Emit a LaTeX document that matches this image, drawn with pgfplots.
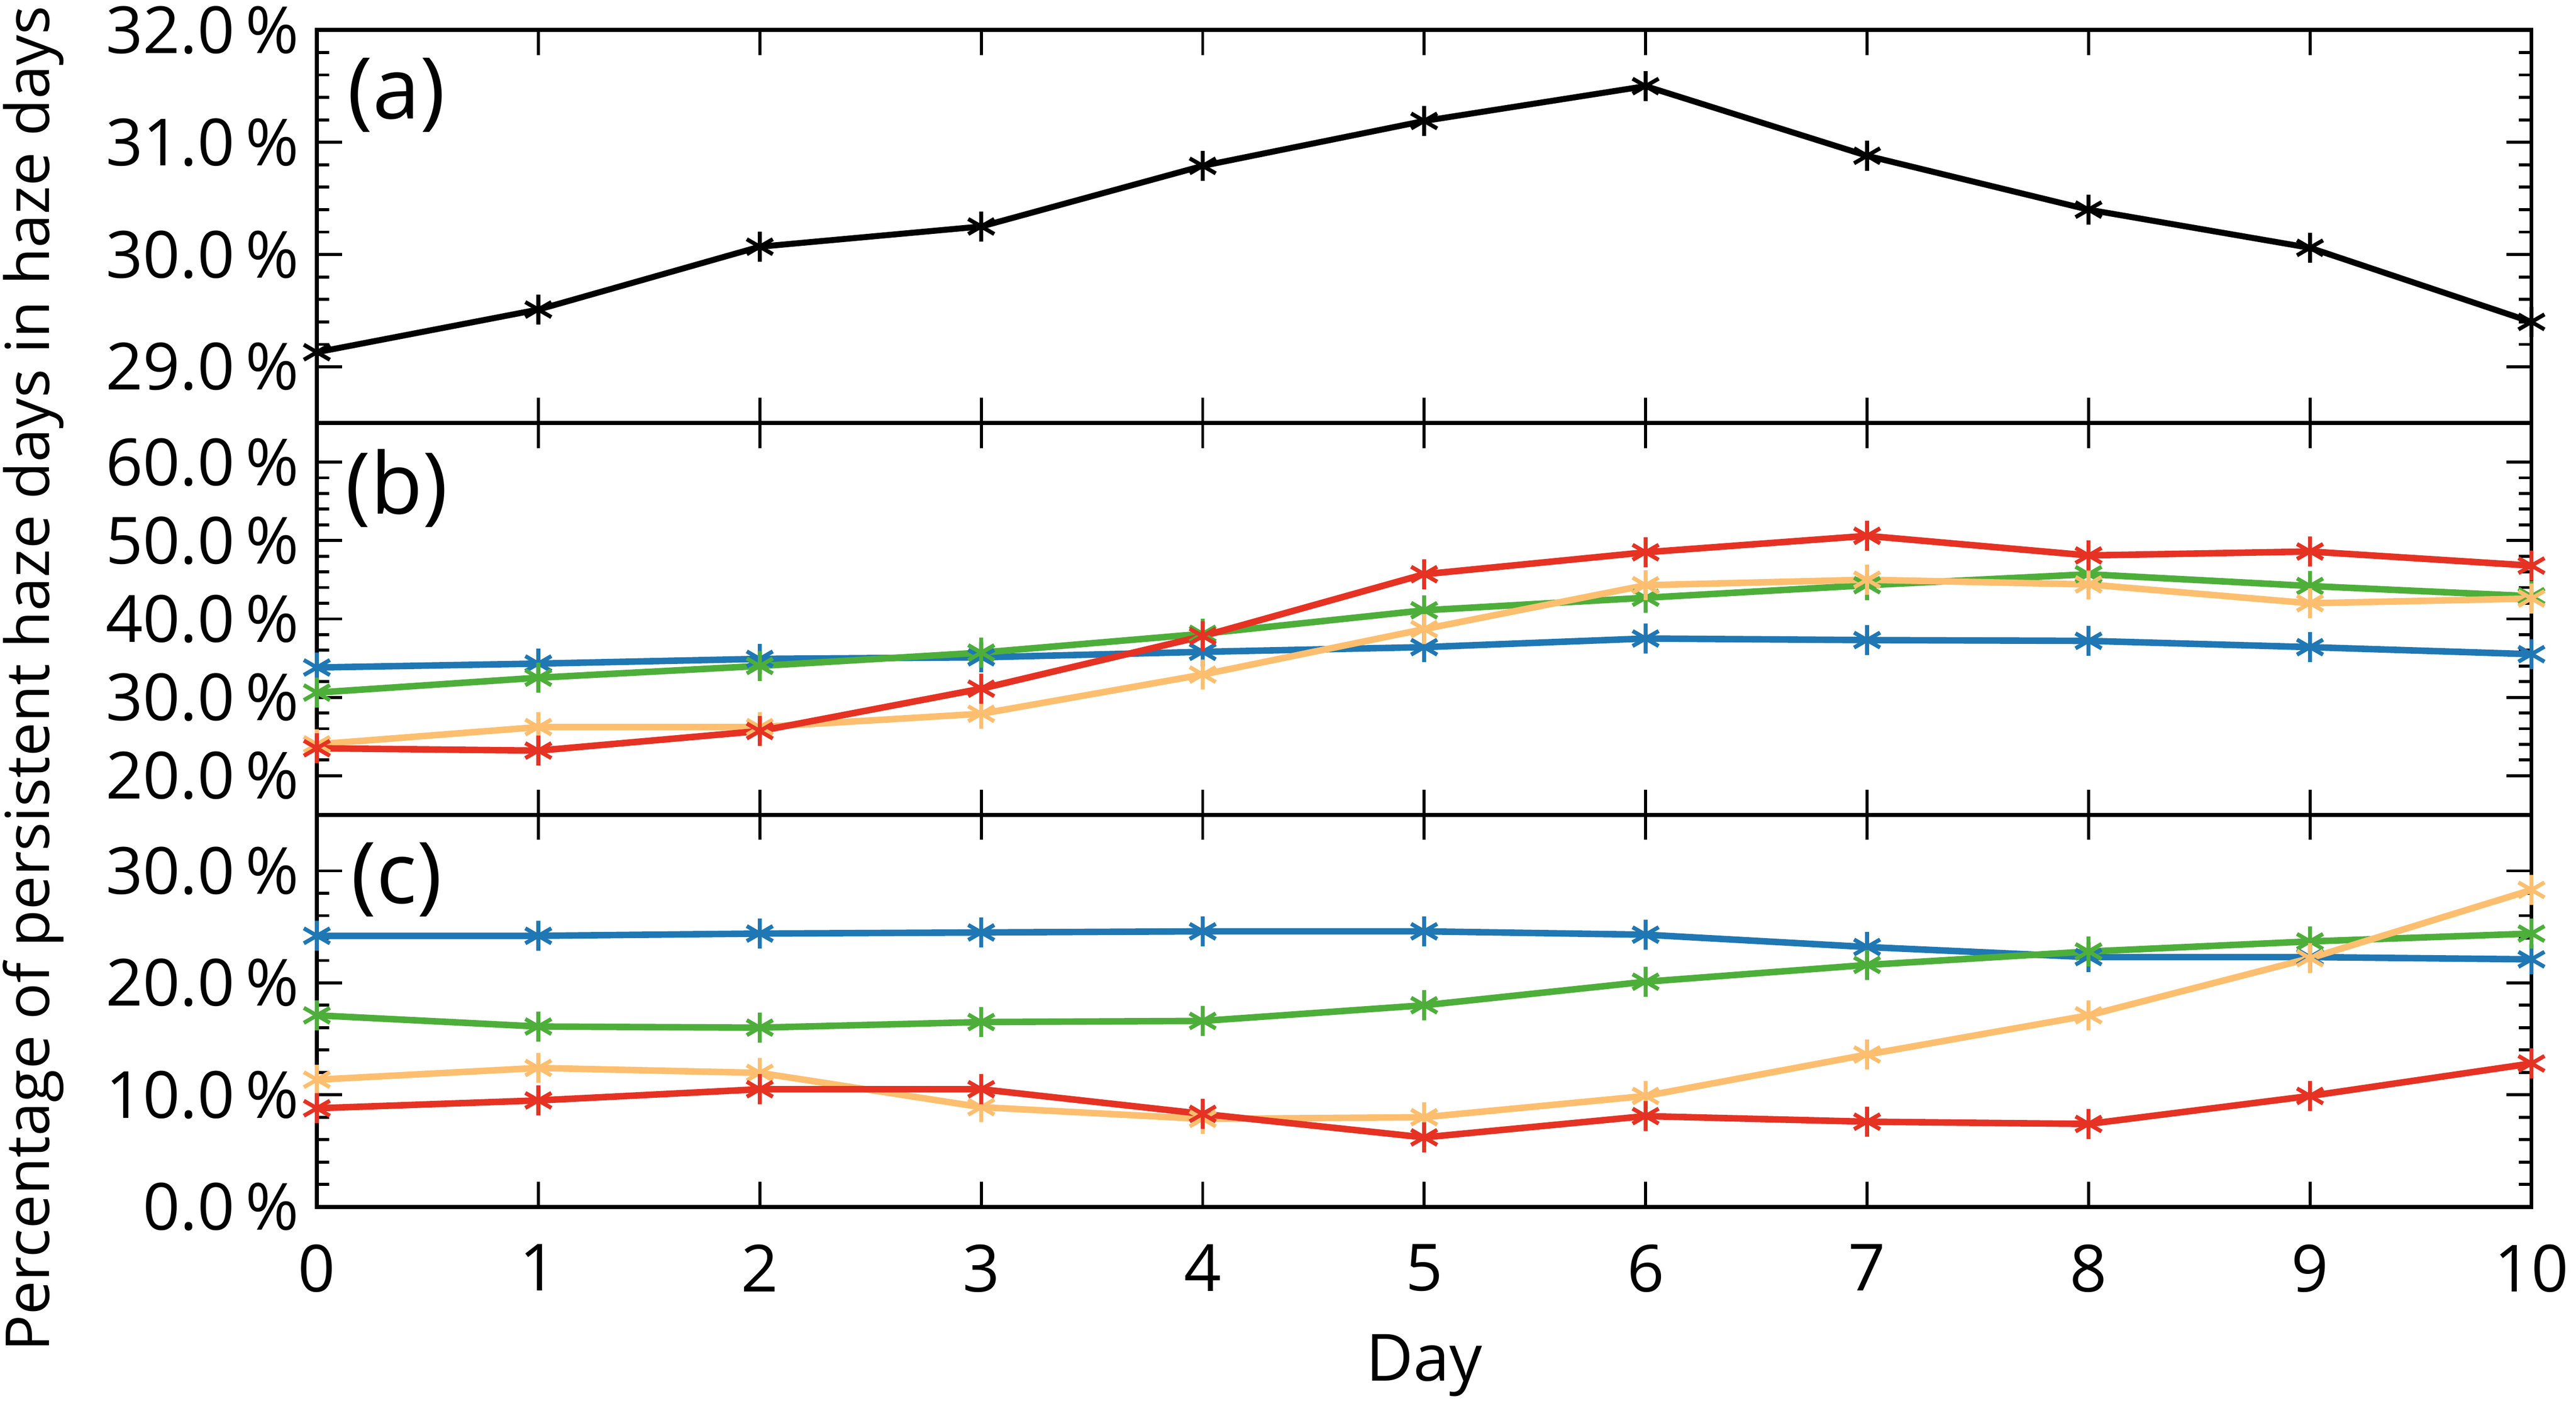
\documentclass[border=0pt]{standalone}
\usepackage{fontspec}
\setmainfont{Open Sans}
\usepackage{pgfplots}
\pgfplotsset{compat=1.18}

\definecolor{cblue}{RGB}{31,119,180}
\definecolor{cred}{RGB}{230,50,35}
\definecolor{cgreen}{RGB}{77,175,58}
\definecolor{corange}{RGB}{253,191,111}

\tikzset{plabel/.style={font=\fontsize{17}{19}\selectfont, anchor=center}}

\pgfplotsset{
  panel/.style={
    width=442.4pt, height=78.3pt, scale only axis,
    xmin=0, xmax=10, xtick={0,...,10},
    tick align=inside, xtick pos=both, ytick pos=both,
    major tick length=5pt, minor tick length=2.5pt,
    axis line style={line width=0.8pt},
    every tick/.style={black, line width=0.6pt},
    tick label style={font=\fontsize{13}{15}\selectfont},
    xticklabel style={yshift=-4pt},
    /pgf/number format/assume math mode=true,
    yticklabel={\pgfmathprintnumber[fixed,fixed zerofill,precision=1]{\tick}\,\%},
    minor y tick num=4,
    clip=false,
    every axis plot/.append style={line width=1.3pt, mark=asterisk, mark size=3pt,
      mark options={solid, line width=0.8pt}},
  },
}

\begin{document}
\begin{tikzpicture}
\path[use as bounding box] (-63.3pt,-40.7pt) rectangle (451.3pt,241.1pt);

% (a)
\begin{axis}[panel, at={(0pt,156.6pt)}, anchor=south west, height=78.5pt,
  ymin=28.5, ymax=32, ytick={29,30,31,32}, xticklabels={}]
\addplot[black, line width=1.2pt] coordinates {
  (0,29.13) (1,29.51) (2,30.07) (3,30.25) (4,30.79) (5,31.19)
  (6,31.50) (7,30.88) (8,30.40) (9,30.06) (10,29.40)
};
\node[plabel] at (rel axis cs:0.036,0.834) {(a)};
\end{axis}

% (b)
\begin{axis}[panel, at={(0pt,78.3pt)}, anchor=south west,
  ymin=15, ymax=65, ytick={20,30,40,50,60}, xticklabels={},
  ylabel={Percentage of persistent haze days in haze days},
  ylabel style={font=\fontsize{12.1}{14}\selectfont, at={(rel axis cs:-0.128,0.347)}, anchor=center}]
\addplot[cblue] coordinates {
  (0,33.8) (1,34.3) (2,34.9) (3,35.1) (4,35.8) (5,36.4)
  (6,37.5) (7,37.3) (8,37.2) (9,36.4) (10,35.5)
};
\addplot[cgreen] coordinates {
  (0,30.6) (1,32.5) (2,34.0) (3,35.7) (4,38.1) (5,41.1)
  (6,42.7) (7,44.3) (8,45.7) (9,44.2) (10,42.9)
};
\addplot[corange] coordinates {
  (0,24.0) (1,26.2) (2,26.2) (3,27.9) (4,32.9) (5,38.7)
  (6,44.3) (7,45.0) (8,44.4) (9,42.0) (10,42.6)
};
\addplot[cred] coordinates {
  (0,23.5) (1,23.2) (2,25.7) (3,31.1) (4,37.8) (5,45.7)
  (6,48.5) (7,50.6) (8,48.1) (9,48.6) (10,46.8)
};
\node[plabel] at (rel axis cs:0.036,0.834) {(b)};
\end{axis}

% (c)
\begin{axis}[panel, at={(0pt,0pt)}, anchor=south west,
  ymin=0, ymax=35, ytick={0,10,20,30},
  xlabel={Day}, xlabel style={font=\fontsize{13}{15}\selectfont, yshift=-1.5pt}]
\addplot[cblue] coordinates {
  (0,24.2) (1,24.2) (2,24.4) (3,24.5) (4,24.6) (5,24.6)
  (6,24.3) (7,23.2) (8,22.3) (9,22.3) (10,22.1)
};
\addplot[cgreen] coordinates {
  (0,17.1) (1,16.1) (2,16.0) (3,16.5) (4,16.6) (5,18.0)
  (6,20.1) (7,21.6) (8,22.8) (9,23.7) (10,24.4)
};
\addplot[corange] coordinates {
  (0,11.35) (1,12.4) (2,11.96) (3,8.9) (4,7.85) (5,8.0)
  (6,9.9) (7,13.6) (8,17.1) (9,22.2) (10,28.3)
};
\addplot[cred] coordinates {
  (0,8.8) (1,9.5) (2,10.5) (3,10.5) (4,8.3) (5,6.2)
  (6,8.1) (7,7.6) (8,7.4) (9,9.9) (10,12.8)
};
\node[plabel] at (rel axis cs:0.036,0.835) {(c)};
\end{axis}
\end{tikzpicture}
\end{document}
